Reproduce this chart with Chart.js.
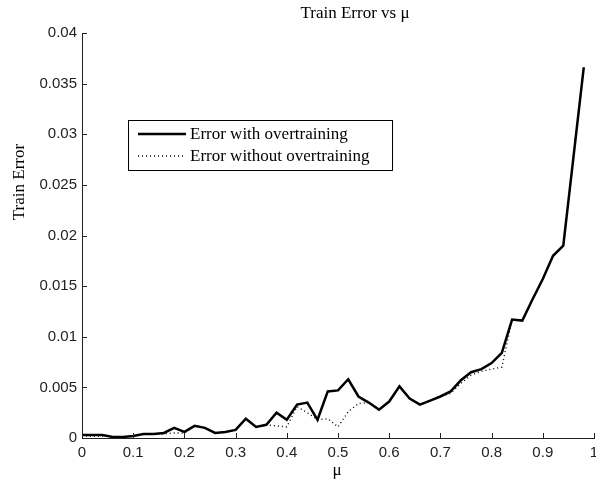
<!DOCTYPE html>
<html>
<head>
<meta charset="utf-8">
<script src="https://cdn.jsdelivr.net/npm/chart.js@4.4.0/dist/chart.umd.min.js"></script>
<style>
  html, body { margin: 0; padding: 0; background: #fff; }
  #grafica { display: block; }
</style>
</head>
<body>
<canvas id="grafica" width="596" height="487"></canvas>
<script>
// valores de mu (paso 0.02)
var mu = [0, 0.02, 0.04, 0.06, 0.08, 0.10, 0.12, 0.14, 0.16, 0.18,
          0.20, 0.22, 0.24, 0.26, 0.28, 0.30, 0.32, 0.34, 0.36, 0.38,
          0.40, 0.42, 0.44, 0.46, 0.48, 0.50, 0.52, 0.54, 0.56, 0.58,
          0.60, 0.62, 0.64, 0.66, 0.68, 0.70, 0.72, 0.74, 0.76, 0.78,
          0.80, 0.82, 0.84, 0.86, 0.88, 0.90, 0.92, 0.94, 0.96, 0.98];

var errorCon = [0.0003, 0.0003, 0.0003, 0.0001, 0.0001, 0.0002, 0.0004, 0.0004, 0.0005, 0.0010,
                0.0006, 0.0012, 0.0010, 0.0005, 0.0006, 0.0008, 0.0019, 0.0011, 0.0013, 0.0025,
                0.0018, 0.0033, 0.0035, 0.0018, 0.0046, 0.0047, 0.0058, 0.0041, 0.0035, 0.0028,
                0.0036, 0.0051, 0.0039, 0.0033, 0.0037, 0.0041, 0.0046, 0.0057, 0.0065, 0.0068,
                0.0074, 0.0084, 0.0117, 0.0116, 0.0137, 0.0157, 0.0180, 0.0190, 0.0278, 0.0366];

var errorSin = [0.0002, 0.0002, 0.0002, 0.0001, 0.0001, 0.0002, 0.0004, 0.0004, 0.0004, 0.0005,
                0.0005, 0.0012, 0.0010, 0.0005, 0.0006, 0.0008, 0.0019, 0.0011, 0.0013, 0.0012,
                0.0011, 0.0031, 0.0025, 0.0018, 0.0019, 0.0011, 0.0026, 0.0034, 0.0035, 0.0028,
                0.0036, 0.0051, 0.0039, 0.0033, 0.0037, 0.0041, 0.0044, 0.0054, 0.0062, 0.0066,
                0.0068, 0.0070, 0.0117, 0.0116, 0.0137, 0.0157, 0.0180, 0.0190, 0.0278, 0.0366];

var ticksX = [0, 0.1, 0.2, 0.3, 0.4, 0.5, 0.6, 0.7, 0.8, 0.9, 1];
var etiquetasX = ['0', '0.1', '0.2', '0.3', '0.4', '0.5', '0.6', '0.7', '0.8', '0.9', '1'];
var ticksY = [0, 0.005, 0.01, 0.015, 0.02, 0.025, 0.03, 0.035, 0.04];
var etiquetasY = ['0', '0.005', '0.01', '0.015', '0.02', '0.025', '0.03', '0.035', '0.04'];

var titulo = 'Train Error vs \u03bc';
var tituloX = '\u03bc';
var tituloY = 'Train Error';

var serif = '"Liberation Serif", "Times New Roman", serif';
var sans = '"Liberation Sans", Arial, sans-serif';

function puntos(ys) {
    var out = [];
    for (var i = 0; i < mu.length; i++) {
        out.push({ x: mu[i], y: ys[i] });
    }
    return out;
}

// marcas hacia adentro, titulos y leyenda
var extras = {
    id: 'extras',
    afterDraw: function (chart) {
        var ctx = chart.ctx;
        var sx = chart.scales.x, sy = chart.scales.y;
        var area = chart.chartArea;
        ctx.save();
        ctx.strokeStyle = '#222';
        ctx.lineWidth = 1;
        ctx.beginPath();
        ticksX.forEach(function (v) {
            var px = Math.round(sx.getPixelForValue(v)) + 0.5;
            ctx.moveTo(px, area.bottom);
            ctx.lineTo(px, area.bottom - 5);
        });
        ticksY.forEach(function (v) {
            var py = Math.round(sy.getPixelForValue(v)) + 0.5;
            ctx.moveTo(area.left, py);
            ctx.lineTo(area.left + 5, py);
        });
        ctx.stroke();

        // titulos
        ctx.fillStyle = '#000';
        ctx.font = '17px ' + serif;
        ctx.textAlign = 'center';
        ctx.textBaseline = 'middle';
        ctx.fillText(titulo, 355, 14);
        ctx.fillText(tituloX, 337, 471);
        ctx.save();
        ctx.translate(20, 182);
        ctx.rotate(-Math.PI / 2);
        ctx.fillText(tituloY, 0, 0);
        ctx.restore();

        // leyenda
        var lx = 128, ly = 120, lw = 264, lh = 50;
        ctx.fillStyle = '#fff';
        ctx.fillRect(lx, ly, lw, lh);
        ctx.strokeStyle = '#000';
        ctx.lineWidth = 1;
        ctx.strokeRect(lx + 0.5, ly + 0.5, lw, lh);
        ctx.textAlign = 'left';
        chart.data.datasets.forEach(function (ds, i) {
            var yy = ly + 14 + i * 22;
            ctx.beginPath();
            ctx.strokeStyle = ds.borderColor;
            ctx.lineWidth = ds.borderWidth;
            ctx.setLineDash(ds.borderDash || []);
            ctx.moveTo(lx + 10, yy);
            ctx.lineTo(lx + 58, yy);
            ctx.stroke();
            ctx.setLineDash([]);
            ctx.fillStyle = '#000';
            ctx.fillText(ds.label, lx + 62, yy + 1);
        });
        ctx.restore();
    }
};

const ctx = document.getElementById('grafica').getContext('2d');
const myChart = new Chart(ctx, {
    type: 'line',
    data: {
        datasets: [{
            label: 'Error with overtraining',
            data: puntos(errorCon),
            borderColor: '#000',
            borderWidth: 2.5,
            pointRadius: 0,
            tension: 0
        },
        {
            label: 'Error without overtraining',
            data: puntos(errorSin),
            borderColor: '#000',
            borderWidth: 1.4,
            borderDash: [1, 3],
            pointRadius: 0,
            tension: 0
        }]
    },
    options: {
        responsive: false,
        animation: false,
        layout: { padding: { top: 33, right: 2, left: 0, bottom: 0 } },
        plugins: {
            legend: { display: false },
            title: { display: false },
            tooltip: { enabled: false }
        },
        scales: {
            x: {
                type: 'linear',
                min: 0,
                max: 1,
                afterBuildTicks: function (scale) {
                    scale.ticks = ticksX.map(function (v) { return { value: v }; });
                },
                afterFit: function (scale) {
                    scale.height = 49;
                    scale.paddingLeft = 0;
                    scale.paddingRight = 0;
                },
                grid: { display: false, drawTicks: false },
                border: { display: true, color: '#222', width: 1 },
                ticks: {
                    autoSkip: false,
                    maxRotation: 0,
                    padding: 6,
                    color: '#222',
                    font: { family: sans, size: 15 },
                    callback: function (v, i) { return etiquetasX[i]; }
                }
            },
            y: {
                type: 'linear',
                min: 0,
                max: 0.04,
                afterBuildTicks: function (scale) {
                    scale.ticks = ticksY.map(function (v) { return { value: v }; });
                },
                afterFit: function (scale) {
                    scale.width = 82;
                    scale.paddingTop = 0;
                    scale.paddingBottom = 0;
                },
                grid: { display: false, drawTicks: false },
                border: { display: true, color: '#222', width: 1 },
                ticks: {
                    autoSkip: false,
                    padding: 5,
                    color: '#222',
                    font: { family: sans, size: 15 },
                    callback: function (v, i) { return etiquetasY[i]; }
                }
            }
        }
    },
    plugins: [extras]
});
</script>
</body>
</html>
